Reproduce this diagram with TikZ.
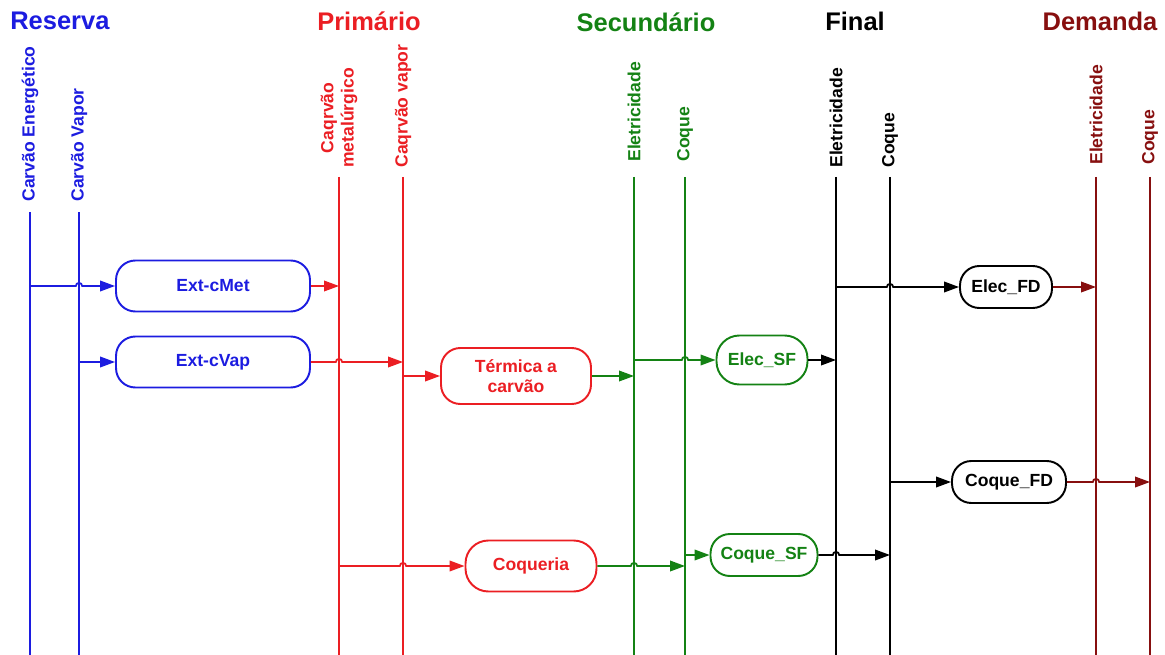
\documentclass[tikz,border=0pt]{standalone}
\usepackage{fontspec}
\setmainfont{Liberation Sans}
\usetikzlibrary{arrows.meta}
\definecolor{resblue}{RGB}{28,28,224}
\definecolor{primred}{RGB}{235,30,35}
\definecolor{secgreen}{RGB}{20,130,20}
\definecolor{demred}{RGB}{135,15,15}
\begin{document}
\begin{tikzpicture}[x=0.02cm,y=-0.02cm,
	txt/.style={font=\bfseries\fontsize{10}{11.5}\selectfont},
	head/.style={font=\bfseries\fontsize{14.5}{16}\selectfont, inner sep=0pt},
	lbl/.style={txt, rotate=90, anchor=west, inner sep=0pt, align=center},
	bus/.style={line width=1pt},
	flow/.style={line width=1pt, -{Triangle[length=8.5pt,width=6pt]}},
	proc/.style={draw, line width=1.1pt, rounded corners=11pt, txt, align=center, inner sep=0pt},
	hopover/.style={insert path={arc[start angle=180,end angle=0,radius=1.8pt]}}]
		\useasboundingbox (0,0) rectangle (1165,655);
		\node[head, text=resblue, anchor=west] (hres) at (10,21) {Reserva};
		\node[head, text=primred] (hprim) at (369,21) {Primário};
		\node[head, text=secgreen] (hsec) at (646,22) {Secundário};
		\node[head, text=black] (hfin) at (855,21) {Final};
		\node[head, text=demred] (hdem) at (1100,21) {Demanda};
		\node[lbl, text=resblue] (lcE) at (30,202) {Carvão Energético};
		\node[lbl, text=resblue] (lcV) at (79,202) {Carvão Vapor};
		\node[lbl, text=primred] (lpM) at (339,168) {Caqrvão\\metalúrgico};
		\node[lbl, text=primred] (lpV) at (403,168) {Caqrvão vapor};
		\node[lbl, text=secgreen] (lsE) at (634,162) {Eletricidade};
		\node[lbl, text=secgreen] (lsC) at (685,162) {Coque};
		\node[lbl, text=black] (lfE) at (836,168) {Eletricidade};
		\node[lbl, text=black] (lfC) at (890,168) {Coque};
		\node[lbl, text=demred] (ldE) at (1096,165) {Eletricidade};
		\node[lbl, text=demred] (ldC) at (1150,165) {Coque};
		\draw[bus, resblue] (30,212) coordinate (cE) -- (30,655);
		\draw[bus, resblue] (79,212) coordinate (cV) -- (79,655);
		\draw[bus, primred] (339,177) coordinate (pM) -- (339,655);
		\draw[bus, primred] (403,177) coordinate (pV) -- (403,655);
		\draw[bus, secgreen] (634,177) coordinate (sE) -- (634,655);
		\draw[bus, secgreen] (685,177) coordinate (sC) -- (685,655);
		\draw[bus, black] (836,177) coordinate (fE) -- (836,655);
		\draw[bus, black] (890,177) coordinate (fC) -- (890,655);
		\draw[bus, demred] (1096,177) coordinate (dE) -- (1096,655);
		\draw[bus, demred] (1150,177) coordinate (dC) -- (1150,655);
		\node[proc, resblue, minimum width=3.88cm, minimum height=1.02cm] (cmet) at (213,286) {Ext-cMet};
		\node[proc, resblue, minimum width=3.88cm, minimum height=1.02cm] (cvap) at (213,362) {Ext-cVap};
		\node[proc, primred, minimum width=3cm, minimum height=1.12cm] (term) at (516,376) {Térmica a\\carvão};
		\node[proc, primred, minimum width=2.62cm, minimum height=1.02cm, rounded corners=13pt] (coq) at (531,566) {Coqueria};
		\node[proc, secgreen, minimum width=1.82cm, minimum height=0.98cm, rounded corners=13pt] (esf) at (762,360) {Elec\_SF};
		\node[proc, secgreen, minimum width=2.14cm, minimum height=0.84cm] (csf) at (764,555) {Coque\_SF};
		\node[proc, black, minimum width=1.84cm, minimum height=0.84cm] (efd) at (1006,287) {Elec\_FD};
		\node[proc, black, minimum width=2.28cm, minimum height=0.84cm] (cfd) at (1009,482) {Coque\_FD};
		\draw[flow, resblue] (cE |- cmet) -- ([xshift=-1.8pt]cV |- cmet) [hopover] -- (cmet);
		\draw[flow, resblue] (cV |- cvap) -- (cvap);
		\draw[flow, primred] (cmet) -- (pM |- cmet);
		\draw[flow, primred] (cvap) -- ([xshift=-1.8pt]pM |- cvap) [hopover] -- (pV |- cvap);
		\draw[flow, primred] (pV |- term) -- (term);
		\draw[flow, primred] (pM |- coq) -- ([xshift=-1.8pt]pV |- coq) [hopover] -- (coq);
		\draw[flow, secgreen] (term) -- (sE |- term);
		\draw[flow, secgreen] (sE |- esf) -- ([xshift=-1.8pt]sC |- esf) [hopover] -- (esf);
		\draw[flow, secgreen] (coq) -- ([xshift=-1.8pt]sE |- coq) [hopover] -- (sC |- coq);
		\draw[flow, secgreen] (sC |- csf) -- (csf);
		\draw[flow, black] (esf) -- (fE |- esf);
		\draw[flow, black] (csf) -- ([xshift=-1.8pt]fE |- csf) [hopover] -- (fC |- csf);
		\draw[flow, black] (fE |- efd) -- ([xshift=-1.8pt]fC |- efd) [hopover] -- (efd);
		\draw[flow, black] (fC |- cfd) -- (cfd);
		\draw[flow, demred] (efd) -- (dE |- efd);
		\draw[flow, demred] (cfd) -- ([xshift=-1.8pt]dE |- cfd) [hopover] -- (dC |- cfd);
\end{tikzpicture}
\end{document}
